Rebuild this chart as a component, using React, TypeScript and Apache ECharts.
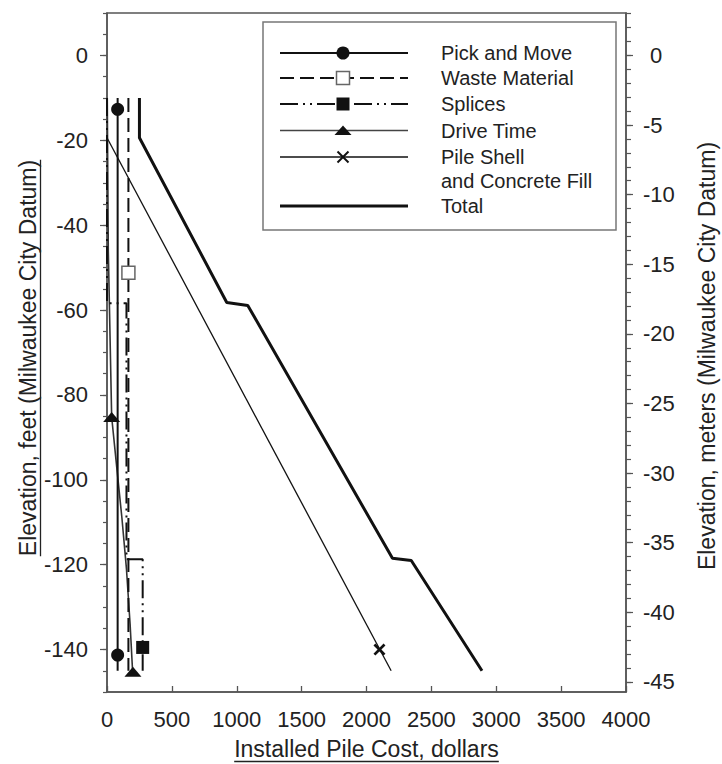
import React, { useEffect, useRef } from "react";
import * as echarts from "echarts";

// ---- axis ticks / labels ----
const costMin = 0;
const costMax = 4000;
const costStep = 500;
const feetLabels = [0, -20, -40, -60, -80, -100, -120, -140];
const feetTicks = [10, 5, 0, -5, -10, -15, -20, -25, -30, -35, -40, -45, -50, -55, -60, -65, -70, -75, -80, -85, -90, -95, -100, -105, -110, -115, -120, -125, -130, -135, -140, -145, -150];
const meterLabels = [0, -5, -10, -15, -20, -25, -30, -35, -40, -45];
const meterTicks = [3, 2, 1, 0, -1, -2, -3, -4, -5, -6, -7, -8, -9, -10, -11, -12, -13, -14, -15, -16, -17, -18, -19, -20, -21, -22, -23, -24, -25, -26, -27, -28, -29, -30, -31, -32, -33, -34, -35, -36, -37, -38, -39, -40, -41, -42, -43, -44, -45];
const feetMin = -150;
const feetMax = 10;
const FT_TO_M = 0.3048;

// ---- series: cost (dollars) vs elevation (feet) ----
const pickMoveCost = [82, 82];
const pickMoveElev = [-10, -145];
const pickMoveMarkCost = [82, 82];
const pickMoveMarkElev = [-12.7, -141.3];

const wasteCost = [165, 165];
const wasteElev = [-10, -145];
const wasteMarkCost = [165];
const wasteMarkElev = [-51.2];

const spliceCost = [0, 0, 150, 150, 275, 275];
const spliceElev = [-10, -58.4, -58.4, -118.7, -118.7, -145];
const spliceMarkCost = [275];
const spliceMarkElev = [-139.5];

const driveCost = [2, 10, 36, 75, 115, 150, 178, 197];
const driveElev = [-10, -46, -85.2, -97, -109, -121, -134, -145];
const driveMarkCost = [36, 200];
const driveMarkElev = [-85.2, -145.2];

const shellCost = [0, 2190];
const shellElev = [-19.4, -145];
const shellMarkCost = [2100];
const shellMarkElev = [-140];

const totalCost = [250, 250, 923, 1085, 2200, 2345, 2890];
const totalElev = [-10, -19.4, -58.2, -58.9, -118.5, -119, -145];

const legendNames = ["Pick and Move", "Waste Material", "Splices", "Drive Time", "Pile Shell", "Total"];
const legendExtra = "and Concrete Fill";

const xTitle = "Installed Pile Cost, dollars";
const yTitle = "Elevation, feet (Milwaukee City Datum)";
const y2Title = "Elevation, meters (Milwaukee City Datum)";

const FONT = "'Liberation Sans', Arial, Helvetica, sans-serif";
const INK = "#111";
const AXIS = "#555";
const TXT = "#222";

const pairs = (xs: number[], ys: number[]) => xs.map((x, i) => [x, ys[i]]);

const X_SHAPE = "path://M0,1.6L1.6,0L5,3.4L8.4,0L10,1.6L6.6,5L10,8.4L8.4,10L5,6.6L1.6,10L0,8.4L3.4,5Z";

function measure(text: string, size: number) {
  const c = document.createElement("canvas").getContext("2d");
  if (!c) return text.length * size * 0.5;
  c.font = `${size}px 'Liberation Sans', Arial, sans-serif`;
  return c.measureText(text).width;
}

export default function App() {
  const ref = useRef<HTMLDivElement>(null);
  useEffect(() => {
    if (!ref.current) return;
    const chart = echarts.init(ref.current, undefined, { renderer: "svg" });

    const lineSeries = (name: string, xs: number[], ys: number[], width: number, type: any, color = INK) => ({
      name,
      type: "line",
      data: pairs(xs, ys),
      symbol: "none",
      showSymbol: false,
      lineStyle: { color, width, type },
      z: 2,
    });
    const markSeries = (name: string, xs: number[], ys: number[], symbol: string, size: any, itemStyle: any) => ({
      name,
      type: "scatter",
      data: pairs(xs, ys),
      symbol,
      symbolSize: size,
      itemStyle: { opacity: 1, ...itemStyle },
      z: 5,
    });

    const tickFont = 22;
    const titleFont = 23;
    const legFont = 20;

    // legend geometry
    const lx1 = 280, lx2 = 408, lmx = 343, ltx = 441;
    const rows = [53, 78, 104, 130.5, 157, 206];
    const legendEls: any[] = [
      { type: "rect", shape: { x: 263, y: 22, width: 353, height: 208 }, style: { fill: "#fff", stroke: "#777", lineWidth: 1.5 }, z: 50 },
    ];
    const legLines = [
      { w: 2, dash: null, c: INK },
      { w: 2, dash: [14, 6], c: INK },
      { w: 2, dash: [18, 5, 2, 5, 2, 5], c: INK },
      { w: 1.6, dash: null, c: "#444" },
      { w: 1.3, dash: null, c: INK },
      { w: 3, dash: null, c: INK },
    ];
    legLines.forEach((l, i) => {
      legendEls.push({
        type: "line",
        shape: { x1: lx1, y1: rows[i], x2: lx2, y2: rows[i] },
        style: { stroke: l.c, lineWidth: l.w, lineDash: l.dash || undefined },
        z: 51,
      });
      legendEls.push({
        type: "text",
        x: ltx,
        y: rows[i],
        style: { text: legendNames[i], fontSize: legFont, fontFamily: FONT, fill: TXT, align: "left", verticalAlign: "middle" },
        z: 52,
      });
    });
    legendEls.push({
      type: "text",
      x: ltx,
      y: 181,
      style: { text: legendExtra, fontSize: legFont, fontFamily: FONT, fill: TXT, align: "left", verticalAlign: "middle" },
      z: 52,
    });
    legendEls.push({ type: "circle", shape: { cx: lmx, cy: rows[0], r: 6.5 }, style: { fill: INK }, z: 53 });
    legendEls.push({ type: "rect", shape: { x: lmx - 6.5, y: rows[1] - 6.5, width: 13, height: 13 }, style: { fill: "#fff", stroke: "#666", lineWidth: 1.5 }, z: 53 });
    legendEls.push({ type: "rect", shape: { x: lmx - 6.5, y: rows[2] - 6.5, width: 13, height: 13 }, style: { fill: INK }, z: 53 });
    legendEls.push({ type: "polygon", shape: { points: [[lmx - 8.5, rows[3] + 4.5], [lmx + 8.5, rows[3] + 4.5], [lmx, rows[3] - 5]] }, style: { fill: INK }, z: 53 });
    legendEls.push({ type: "line", shape: { x1: lmx - 5.5, y1: rows[4] - 5.5, x2: lmx + 5.5, y2: rows[4] + 5.5 }, style: { stroke: INK, lineWidth: 2 }, z: 53 });
    legendEls.push({ type: "line", shape: { x1: lmx + 5.5, y1: rows[4] - 5.5, x2: lmx - 5.5, y2: rows[4] + 5.5 }, style: { stroke: INK, lineWidth: 2 }, z: 53 });

    // titles with underlines
    const xTitleW = measure(xTitle, titleFont);
    const yTitleW = measure(yTitle, titleFont);
    const xCx = 366.5, xCy = 749;
    const yCx = 28, yCy = 358;
    const titleEls: any[] = [
      { type: "text", x: xCx, y: xCy, style: { text: xTitle, fontSize: titleFont, fontFamily: FONT, fill: TXT, align: "center", verticalAlign: "middle" } },
      { type: "line", shape: { x1: xCx - xTitleW / 2, y1: xCy + 12.5, x2: xCx + xTitleW / 2, y2: xCy + 12.5 }, style: { stroke: TXT, lineWidth: 1.3 } },
      { type: "text", x: yCx, y: yCy, rotation: Math.PI / 2, style: { text: yTitle, fontSize: titleFont, fontFamily: FONT, fill: TXT, align: "center", verticalAlign: "middle" } },
      { type: "line", shape: { x1: yCx + 12.5, y1: yCy - yTitleW / 2, x2: yCx + 12.5, y2: yCy + yTitleW / 2 }, style: { stroke: TXT, lineWidth: 1.3 } },
      { type: "text", x: 707, y: 356, rotation: Math.PI / 2, style: { text: y2Title, fontSize: titleFont, fontFamily: FONT, fill: TXT, align: "center", verticalAlign: "middle" } },
    ];

    const tickLabel = { fontSize: tickFont, fontFamily: FONT, color: TXT };

    chart.setOption({
      animation: false,
      backgroundColor: "#fff",
      grid: { left: 107, right: 96, top: 13, bottom: 72, show: true, borderColor: AXIS, borderWidth: 1.5, backgroundColor: "transparent" },
      xAxis: {
        type: "value",
        min: costMin,
        max: costMax,
        interval: costStep,
        axisLine: { show: true, onZero: false, lineStyle: { color: AXIS, width: 1.5 } },
        axisTick: { show: true, inside: true, length: 6, lineStyle: { color: AXIS, width: 1.3 } },
        axisLabel: { ...tickLabel, margin: 16, formatter: (v: number) => String(v) },
        splitLine: { show: false },
      },
      yAxis: [
        {
          type: "value",
          position: "left",
          min: feetMin,
          max: feetMax,
          axisLine: { show: true, onZero: false, lineStyle: { color: AXIS, width: 1.5 } },
          axisTick: { show: true, customValues: feetTicks, length: 4, lineStyle: { color: AXIS, width: 1.2 } },
          axisLabel: { ...tickLabel, customValues: feetLabels, margin: 19, formatter: (v: number) => String(v) },
          splitLine: { show: false },
        },
        {
          type: "value",
          position: "right",
          min: feetMin * FT_TO_M,
          max: feetMax * FT_TO_M,
          axisLine: { show: true, onZero: false, lineStyle: { color: AXIS, width: 1.5 } },
          axisTick: { show: true, customValues: meterTicks, length: 5, lineStyle: { color: AXIS, width: 1.2 } },
          axisLabel: {
            ...tickLabel,
            customValues: meterLabels,
            margin: 17,
            formatter: (v: number) => (v === 0 ? "{z|0}" : String(v)),
            rich: { z: { fontSize: tickFont, fontFamily: FONT, color: TXT, padding: [0, 0, 0, 7] } },
          },
          splitLine: { show: false },
        },
        {
          type: "value",
          position: "left",
          min: feetMin,
          max: feetMax,
          axisLine: { show: false, onZero: false },
          axisTick: { show: true, customValues: feetLabels, length: 7, lineStyle: { color: AXIS, width: 1.2 } },
          axisLabel: { show: false },
          splitLine: { show: false },
        },
        {
          type: "value",
          position: "right",
          min: feetMin * FT_TO_M,
          max: feetMax * FT_TO_M,
          axisLine: { show: false, onZero: false },
          axisTick: { show: true, customValues: meterLabels, length: 7, lineStyle: { color: AXIS, width: 1.2 } },
          axisLabel: { show: false },
          splitLine: { show: false },
        },
      ],
      series: [
        lineSeries("Pile Shell and Concrete Fill", shellCost, shellElev, 1.3, "solid"),
        lineSeries("Drive Time", driveCost, driveElev, 1.6, "solid", "#333"),
        lineSeries("Splices", spliceCost, spliceElev, 2, [18, 5, 2, 5, 2, 5]),
        lineSeries("Waste Material", wasteCost, wasteElev, 2, [14, 6]),
        lineSeries("Pick and Move", pickMoveCost, pickMoveElev, 2, "solid"),
        lineSeries("Total", totalCost, totalElev, 3, "solid"),
        markSeries("Pick and Move", pickMoveMarkCost, pickMoveMarkElev, "circle", 13, { color: INK }),
        markSeries("Waste Material", wasteMarkCost, wasteMarkElev, "rect", 13, { color: "#fff", borderColor: "#666", borderWidth: 1.5 }),
        markSeries("Splices", spliceMarkCost, spliceMarkElev, "rect", 13, { color: INK }),
        markSeries("Drive Time", driveMarkCost, driveMarkElev, "triangle", [17, 10], { color: INK }),
        markSeries("Pile Shell and Concrete Fill", shellMarkCost, shellMarkElev, X_SHAPE, 12, { color: INK }),
      ],
      graphic: [...legendEls, ...titleEls],
    });
    return () => chart.dispose();
  }, []);
  return <div ref={ref} style={{ position: "absolute", left: 0, top: 0, width: 722, height: 764, background: "#fff" }} />;
}
